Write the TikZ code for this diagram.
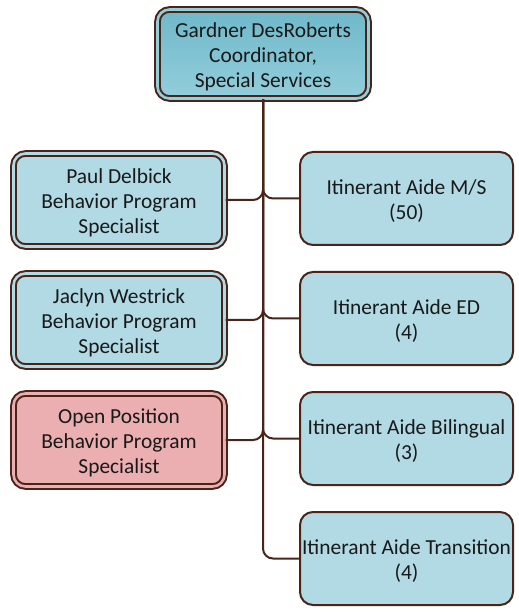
\documentclass[tikz,border=0pt]{standalone}
\usepackage{fontspec}
\setmainfont{Carlito}
\usepackage{tikz}
\usetikzlibrary{positioning}

\definecolor{linebrown}{HTML}{4A2418}
\definecolor{aideblue}{HTML}{B1DAE4}
\definecolor{openpink}{HTML}{EBAFB1}
\definecolor{headtop}{HTML}{6FB8CA}
\definecolor{headbot}{HTML}{93CEDB}

\begin{document}
\begin{tikzpicture}[-,line width=1pt,draw=linebrown,node distance=60pt,
		box/.style={rectangle,rounded corners=6.5pt,draw=linebrown,line width=1pt,
			align=center,inner sep=0pt,minimum width=106.5pt,minimum height=46.5pt,
			text height=23.7pt,text depth=3pt,
			text=black!90,font=\fontsize{10.7}{12.5}\selectfont},
		twobox/.style={box,rounded corners=6pt,line width=1pt,double distance=1.3pt,
			minimum width=105.5pt,text height=36.2pt},
		head/.style={twobox,double=headbot,top color=headtop,bottom color=headbot,
			minimum height=44.5pt},
		staff/.style={twobox,fill=aideblue,double=aideblue},
		open/.style={twobox,fill=openpink,double=openpink},
		aide/.style={box,fill=aideblue},
		branch/.style={draw=linebrown,line width=1pt,rounded corners=5pt,
			to path={|- (\tikztotarget)}}]
	\useasboundingbox (0,0) rectangle (259pt,-306.5pt);
	
	\node[head] (C) at (131.5pt,-27pt) {Gardner DesRoberts\\Coordinator,\\Special Services};
	
	\node[staff] (L1) at (59.5pt,-100pt) {Paul Delbick\\Behavior Program\\Specialist};
	\node[staff] (L2) [below of=L1] {Jaclyn Westrick\\Behavior Program\\Specialist};
	\node[open] (L3) [below of=L2] {Open Position\\Behavior Program\\Specialist};
	
	\node[aide] (R1) at (203.25pt,-99.25pt) {Itinerant Aide M/S\\(50)};
	\node[aide] (R2) [below of=R1] {Itinerant Aide ED\\(4)};
	\node[aide] (R3) [below of=R2] {Itinerant Aide Bilingual\\(3)};
	\node[aide] (R4) [below of=R3] {Itinerant Aide Transition\\(4)};
	
	\path
	(C.south) edge[branch] (R4)
	edge[branch] (L1)
	edge[branch] (L2)
	edge[branch] (L3)
	edge[branch] (R1)
	edge[branch] (R2)
	edge[branch] (R3);
\end{tikzpicture}
\end{document}
